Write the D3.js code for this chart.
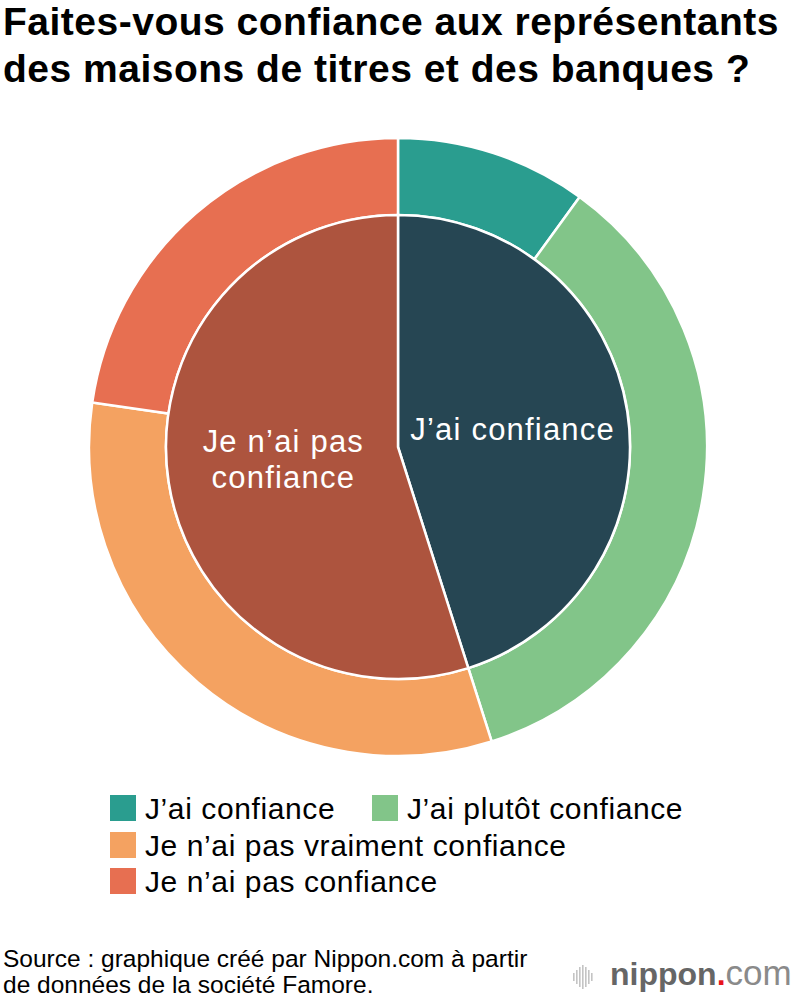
<!DOCTYPE html>
<html>
<head>
<meta charset="utf-8">
<script src="https://cdn.jsdelivr.net/npm/d3@7"></script>
<style>
  body { margin: 0; background: #fff; }
  svg { display: block; font-family: "Liberation Sans", Arial, sans-serif; }
</style>
</head>
<body>
<div id="chart"></div>
<script>
// outer ring: detailed answers (%)
const outerLabels = ["J’ai confiance", "J’ai plutôt confiance", "Je n’ai pas vraiment confiance", "Je n’ai pas confiance"];
const outerValues = [10.0, 35.1, 32.2, 22.7];
const outerColors = ["#2a9d8f", "#82c589", "#f4a261", "#e76f51"];

// inner pie: grouped answers (%)
const innerLabels = ["J’ai confiance", "Je n’ai pas confiance"];
const innerValues = [45.1, 54.9];
const innerColors = ["#264653", "#ad543e"];

const titleLines = ["Faites-vous confiance aux représentants", "des maisons de titres et des banques ?"];
const sourceLines = ["Source : graphique créé par Nippon.com à partir", "de données de la société Famore."];

const width = 800, height = 1000;
const cx = 398, cy = 447;
const rInner = 232, rOuter = 309;

const svg = d3.select('#chart').append('svg')
    .attr('width', width)
    .attr('height', height);

// title
svg.append('text')
    .style('font-size', '39px')
    .style('letter-spacing', '0.5px')
    .style('font-weight', 700)
    .style('fill', '#000')
    .selectAll('tspan')
    .data(titleLines)
    .enter()
    .append('tspan')
    .attr('x', 3)
    .attr('y', (d, i) => 35 + i * 47)
    .text(d => d);

const g = svg.append('g')
    .attr('transform', `translate(${cx},${cy})`);

const pie = d3.pie().value(d => d).sort(null);
const outerArc = d3.arc().innerRadius(rInner).outerRadius(rOuter);
const innerArc = d3.arc().innerRadius(0).outerRadius(rInner);

g.selectAll('.outer')
    .data(pie(outerValues))
    .enter()
    .append('path')
    .attr('class', 'outer')
    .attr('d', outerArc)
    .style('fill', (d, i) => outerColors[i])
    .style('stroke', '#fff')
    .style('stroke-width', 2.5);

const inner = g.selectAll('.inner')
    .data(pie(innerValues))
    .enter()
    .append('g')
    .attr('class', 'inner');

inner.append('path')
    .attr('d', innerArc)
    .style('fill', (d, i) => innerColors[i])
    .style('stroke', '#fff')
    .style('stroke-width', 2.5);

// labels in the inner pie, the long one on two lines
const innerLines = [["J’ai confiance"], ["Je n’ai pas", "confiance"]];
inner.append('text')
    .attr('transform', d => `translate(${innerArc.centroid(d)})`)
    .style('font-size', '31px')
    .style('letter-spacing', '1.2px')
    .style('fill', '#fff')
    .style('text-anchor', 'middle')
    .each(function (d, i) {
        const lines = innerLines[i];
        const t = d3.select(this);
        lines.forEach((l, j) => {
            t.append('tspan')
                .attr('x', 0)
                .attr('y', (j - (lines.length - 1) / 2) * 36 + 11 - (lines.length - 1) * 6)
                .text(l);
        });
    });

// legend
const legendPos = [[110, 808], [372, 808], [110, 845], [110, 881]];
const legend = svg.selectAll('.legend')
    .data(outerLabels)
    .enter()
    .append('g')
    .attr('class', 'legend')
    .attr('transform', (d, i) => `translate(${legendPos[i][0]},${legendPos[i][1]})`);

legend.append('rect')
    .attr('x', 0)
    .attr('y', -13)
    .attr('width', 26)
    .attr('height', 26)
    .style('fill', (d, i) => outerColors[i]);

legend.append('text')
    .attr('x', 35)
    .attr('y', 11)
    .style('font-size', '30px')
    .style('letter-spacing', '0.6px')
    .style('fill', '#000')
    .text(d => d);

// source
svg.append('text')
    .style('font-size', '24.5px')
    .style('fill', '#000')
    .selectAll('tspan')
    .data(sourceLines)
    .enter()
    .append('tspan')
    .attr('x', 3)
    .attr('y', (d, i) => 967 + i * 26)
    .text(d => d);

// nippon.com logo
const logo = svg.append('g').attr('transform', 'translate(573,985)');
const barH = [8, 14, 20, 24, 20, 14, 8];
logo.selectAll('rect')
    .data(barH)
    .enter()
    .append('rect')
    .attr('x', (d, i) => i * 3)
    .attr('y', d => -8 - d / 2)
    .attr('width', 1.6)
    .attr('height', d => d)
    .style('fill', '#c4c4c4');
const logoText = logo.append('text')
    .attr('x', 37)
    .attr('y', 0)
    .style('font-size', '32px')
    .style('fill', '#666');
logoText.append('tspan').style('font-weight', 700).text('nippon');
logoText.append('tspan').style('fill', '#e8141c').style('font-weight', 700).text('.');
logoText.append('tspan').style('font-weight', 300).style('font-size', '35px').style('fill', '#8a8a8a').text('com');
</script>
</body>
</html>
